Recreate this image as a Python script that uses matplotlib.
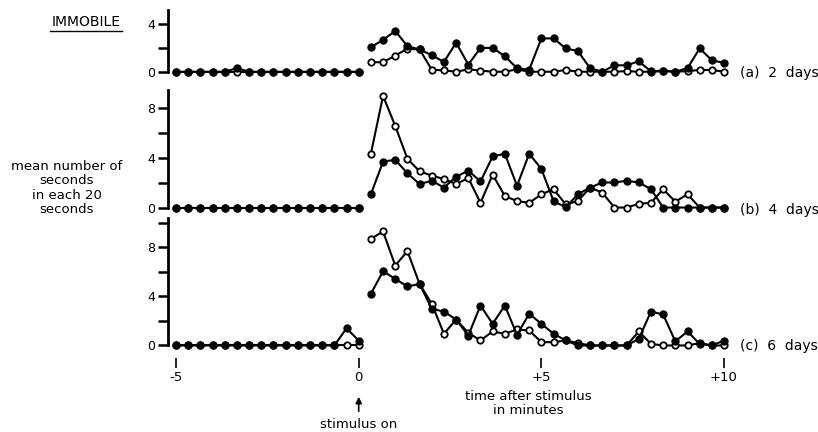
import numpy as np
import matplotlib.pyplot as plt
from matplotlib.lines import Line2D
from matplotlib.transforms import blended_transform_factory

# time points, every 20 s (minutes)
pre_t = np.arange(16) / 3 - 5
post_t = np.arange(1, 31) / 3

# (a) 2 days
a_pre_filled = [0, 0, 0, 0, 0, 0.3, 0, 0, 0, 0, 0, 0, 0, 0, 0, 0]
a_pre_open = [0] * 16
a_post_filled = [2.07, 2.67, 3.43, 2.15, 1.87, 1.39, 0.82, 2.44, 0.6, 2.0,
                 2.0, 1.3, 0.3, 0.17, 2.8, 2.8, 1.96, 1.73, 0.3, 0.0,
                 0.54, 0.54, 0.88, 0.03, 0.1, 0.0, 0.3, 1.96, 0.96, 0.74]
a_post_open = [0.8, 0.8, 1.36, 1.93, 1.87, 0.17, 0.11, 0.0, 0.2, 0.1,
               0.0, 0.0, 0.2, 0.0, 0.0, 0.0, 0.15, 0.0, 0.0, 0.0,
               0.0, 0.05, 0.0, 0.0, 0.05, 0.0, 0.05, 0.15, 0.15, 0.0]

# (b) 4 days
b_pre_filled = [0] * 16
b_pre_open = [0] * 16
b_post_filled = [1.07, 3.7, 3.85, 2.76, 1.89, 2.16, 1.61, 2.48, 2.98, 2.1,
                 4.12, 4.34, 1.75, 4.34, 3.11, 0.52, 0.02, 1.07, 1.61, 2.02,
                 2.02, 2.16, 2.02, 1.48, 0.0, 0.0, 0.0, 0.0, 0.0, 0.0]
b_post_open = [4.34, 9.0, 6.58, 3.93, 2.92, 2.57, 2.3, 1.89, 2.38, 0.38,
               2.65, 0.93, 0.52, 0.38, 1.07, 1.48, 0.25, 0.52, 1.61, 1.2,
               0.0, 0.0, 0.3, 0.38, 1.48, 0.47, 1.07, 0.0, 0.0, 0.0]

# (c) 6 days
c_pre_filled = [0, 0, 0, 0, 0, 0, 0, 0, 0, 0, 0, 0, 0, 0, 1.4, 0.4]
c_pre_open = [0] * 16
c_post_filled = [4.2, 6.04, 5.42, 4.8, 5.0, 2.98, 2.76, 2.11, 0.81, 3.25,
                 1.76, 3.25, 0.87, 2.58, 1.76, 0.95, 0.41, 0.0, 0.0, 0.0,
                 0.0, 0.0, 0.54, 2.76, 2.52, 0.33, 1.14, 0.13, 0.0, 0.4]
c_post_open = [8.67, 9.27, 6.5, 7.67, 5.0, 3.39, 0.95, 2.11, 1.03, 0.41,
               1.14, 0.95, 1.3, 1.22, 0.27, 0.27, 0.41, 0.2, 0.0, 0.0,
               0.0, 0.0, 1.14, 0.13, 0.0, 0.0, 0.0, 0.2, 0.0, 0.0]

xticks = [-5, 0, 5, 10]
xticklabels = ['-5', '0', '+5', '+10']
W, H = 818, 432


def panel(rect, pre_f, pre_o, post_f, post_o, ytop, label_ticks):
    ax = fig.add_axes(rect)
    for t, o, f in ((pre_t, pre_o, pre_f), (post_t, post_o, post_f)):
        ax.plot(t, o, '-o', color='k', lw=1.5, ms=4.6, mfc='white', mec='k',
                mew=1.3, clip_on=False)
        ax.plot(t, f, '-o', color='k', lw=1.5, ms=5, clip_on=False)
    ax.set_xlim(-5.22, 10.3)
    ax.set_ylim(-0.4, ytop)
    for s in ['top', 'right', 'bottom']:
        ax.spines[s].set_visible(False)
    ax.spines['left'].set_bounds(0, ytop)
    ax.spines['left'].set_linewidth(2)
    ticks = list(range(0, int(ytop) + 1, 2))
    ax.set_yticks(ticks)
    ax.set_yticklabels([str(v) if v in label_ticks else '' for v in ticks])
    ax.tick_params(axis='y', length=7, width=1.8, labelsize=9, pad=2)
    ax.set_xticks([])
    ax.patch.set_alpha(0)
    return ax


def px_rect(top, bottom):
    left, right = 168, 735
    return [left / W, 1 - bottom / H, (right - left) / W, (bottom - top) / H]


fig = plt.figure(figsize=(8.18, 4.32), dpi=100)

ax_a = panel(px_rect(9.8, 76.5), a_pre_filled, a_pre_open, a_post_filled,
             a_post_open, 5.2, [0, 4])
ax_b = panel(px_rect(89.7, 212.5), b_pre_filled, b_pre_open, b_post_filled,
             b_post_open, 9.5, [0, 4, 8])
ax_c = panel(px_rect(217.6, 350.4), c_pre_filled, c_pre_open, c_post_filled,
             c_post_open, 10.4, [0, 4, 8])

# x axis only under the last panel, ticks detached from the data
ax_c.set_xticks(xticks)
ax_c.set_xticklabels(xticklabels)
ax_c.spines['bottom'].set_position(('outward', 5.5))
ax_c.tick_params(axis='x', length=7, width=1.2, labelsize=9.5, pad=2)

# panel labels
for y, txt in ((73, '(a)  2  days'), (210, '(b)  4  days'), (346, '(c)  6  days')):
    fig.text(740 / W, 1 - y / H, txt, ha='left', va='center', fontsize=10)

fig.text(86 / W, 1 - 22 / H, 'IMMOBILE', ha='center', va='center', fontsize=10)
fig.add_artist(Line2D([50 / W, 122 / W], [1 - 31 / H] * 2,
                      transform=fig.transFigure, color='k', lw=1))
fig.text(67 / W, 1 - 188 / H, 'mean number of\nseconds\nin each 20\nseconds',
         ha='center', va='center', fontsize=9.5, linespacing=1.15)

tr = blended_transform_factory(ax_c.transData, fig.transFigure)
ax_c.text(4.65, 1 - 404 / H, 'time after stimulus\nin minutes', transform=tr,
          ha='center', va='center', fontsize=9.5, linespacing=1.1)
ax_c.annotate('', xy=(0, 1 - 394 / H), xycoords=tr,
              xytext=(0, 1 - 414 / H), textcoords=tr,
              arrowprops=dict(arrowstyle='-|>', color='k', lw=1.2,
                              mutation_scale=9))
ax_c.text(0, 1 - 424 / H, 'stimulus on', transform=tr, ha='center',
          va='center', fontsize=9.5)

fig.savefig('out.png', dpi=100)
